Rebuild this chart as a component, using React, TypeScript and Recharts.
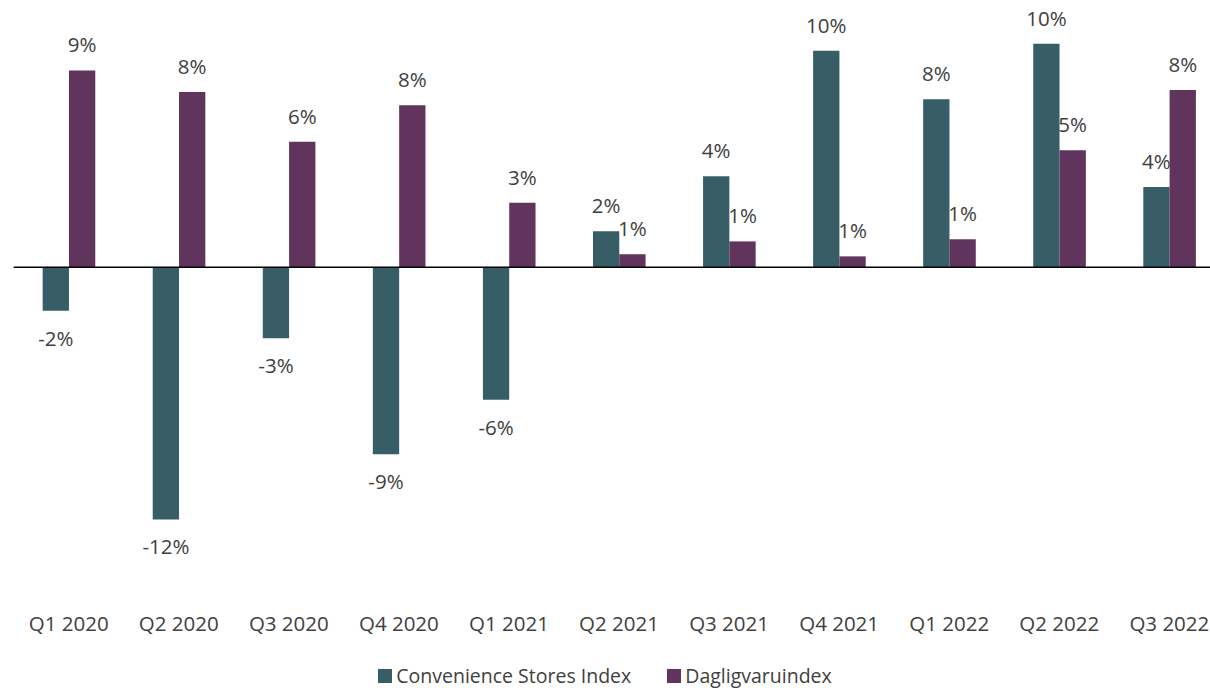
import { BarChart, Bar, XAxis, YAxis, ReferenceLine, LabelList, Legend } from "recharts"

const quarters = ["Q1 2020", "Q2 2020", "Q3 2020", "Q4 2020", "Q1 2021", "Q2 2021", "Q3 2021", "Q4 2021", "Q1 2022", "Q2 2022", "Q3 2022"]
const convenienceIndex = [-2.03, -11.78, -3.32, -8.74, -6.19, 1.69, 4.25, 10.12, 7.85, 10.45, 3.75]
const dagligvaruIndex = [9.2, 8.19, 5.87, 7.57, 3.02, 0.61, 1.21, 0.51, 1.31, 5.47, 8.29]
const seriesNames = ["Convenience Stores Index", "Dagligvaruindex"]
const yDomain = [-14, 12]

const TEAL = "#375e66"
const PURPLE = "#60345c"
const TEXT = "#404040"

const data = quarters.map((q, i) => ({
  quarter: q,
  conv: convenienceIndex[i],
  daglig: dagligvaruIndex[i],
}))

function ValueLabel(props: any) {
  const { x, y, width, height, value } = props
  const top = Math.min(y, y + height)
  const bottom = Math.max(y, y + height)
  const ty = value >= 0 ? top - 18 : bottom + 35
  return (
    <text x={x + width / 2} y={ty} textAnchor="middle" fontSize={20.5} fill={TEXT}>
      {Math.round(value)}%
    </text>
  )
}

function QuarterTick(props: any) {
  const { x, y, payload } = props
  return (
    <text x={x} y={y + 56} textAnchor="middle" fontSize={20.5} fill={TEXT}>
      {payload.value}
    </text>
  )
}

function LegendContent(props: any) {
  const items = props.payload || []
  return (
    <div style={{ display: "flex", justifyContent: "center", alignItems: "center", fontSize: 19.5, color: TEXT, lineHeight: "20px" }}>
      {items.map((it: any, i: number) => (
        <div key={it.value} style={{ display: "flex", alignItems: "center", marginLeft: i === 0 ? 0 : 36 }}>
          <span style={{ width: 14, height: 14, background: it.color, marginRight: 4, display: "inline-block" }} />
          <span>{it.value}</span>
        </div>
      ))}
    </div>
  )
}

export default function App() {
  return (
    <div style={{ position: "absolute", left: 0, top: 0, width: 1210, height: 688, overflow: "hidden", background: "#fff", fontFamily: "'Open Sans', sans-serif" }}>
      <BarChart
        width={1225}
        height={688}
        data={data}
        margin={{ top: 10.5, right: 0.63, left: 13.67, bottom: 61.1 }}
        barGap={0}
      >
        <XAxis dataKey="quarter" height={60} axisLine={false} tickLine={false} tick={<QuarterTick />} interval={0} />
        <YAxis hide domain={yDomain} type="number" />
        <Legend
          layout="horizontal"
          verticalAlign="middle"
          align="center"
          content={<LegendContent />}
          wrapperStyle={{ top: 666, left: 0, width: 1210 }}
        />
        <Bar dataKey="conv" name={seriesNames[0]} fill={TEAL} barSize={26.3} isAnimationActive={false}>
          <LabelList dataKey="conv" content={<ValueLabel />} />
        </Bar>
        <Bar dataKey="daglig" name={seriesNames[1]} fill={PURPLE} barSize={26.3} isAnimationActive={false}>
          <LabelList dataKey="daglig" content={<ValueLabel />} />
        </Bar>
        <ReferenceLine y={0} stroke="#000" strokeWidth={1.4} />
      </BarChart>
    </div>
  )
}
